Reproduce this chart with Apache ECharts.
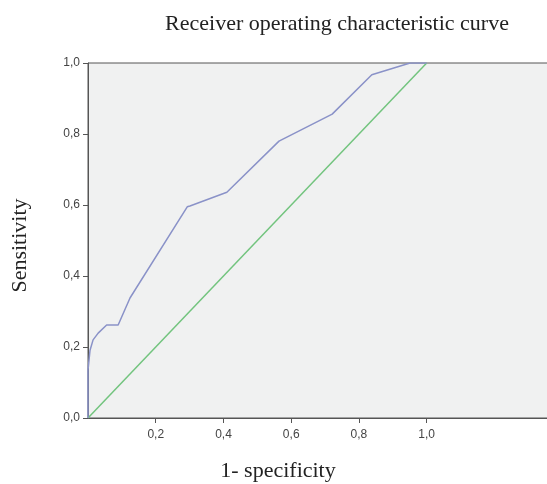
<!DOCTYPE html>
<html>
<head>
<meta charset="utf-8">
<script src="https://cdn.jsdelivr.net/npm/echarts@6/dist/echarts.min.js"></script>
<style>html,body{margin:0;padding:0;background:#fff}#c{width:547px;height:484px}</style>
</head>
<body>
<div id="c"></div>
<script>
// ROC curve points: [1 - specificity, sensitivity]
const rocFpr = [0, 0, 0.003, 0.006, 0.015, 0.030, 0.055, 0.089, 0.124, 0.293, 0.301, 0.410, 0.564, 0.721, 0.838, 0.951, 1.0];
const rocTpr = [0, 0.135, 0.163, 0.191, 0.220, 0.239, 0.262, 0.262, 0.338, 0.595, 0.597, 0.636, 0.780, 0.856, 0.967, 1.0, 1.0];
const refFpr = [0, 1];
const refTpr = [0, 1];
const tickValues = [0.2, 0.4, 0.6, 0.8, 1.0];

const fmt = v => v.toFixed(1).replace('.', ',');
const chart = echarts.init(document.getElementById('c'), null, {renderer: 'canvas'});
chart.setOption({
  animation: false,
  title: {
    text: 'Receiver operating characteristic curve',
    left: 332, top: 8, textAlign: 'center',
    textStyle: {fontFamily: 'Liberation Serif', fontSize: 22, fontWeight: 'normal', color: '#222'}
  },
  grid: {
    left: 88, top: 63, right: -5, bottom: 66,
    outerBoundsMode: 'none', containLabel: false,
    show: true, backgroundColor: '#f0f1f1', borderColor: '#555', borderWidth: 1
  },
  xAxis: {
    type: 'value', min: 0, max: 1.37,
    name: '1- specificity', nameLocation: 'middle', nameGap: 42,
    nameTextStyle: {fontFamily: 'Liberation Serif', fontSize: 22, color: '#222', padding: [0, 0, 0, -84]},
    axisLine: {show: true, lineStyle: {color: '#555'}},
    axisTick: {show: true, length: 5, lineStyle: {color: '#555'}, customValues: tickValues},
    axisLabel: {customValues: tickValues, formatter: fmt, color: '#444', fontFamily: 'Liberation Sans', fontSize: 12, margin: 11},
    splitLine: {show: false}
  },
  yAxis: {
    type: 'value', min: 0, max: 1, interval: 0.2,
    name: 'Sensitivity', nameLocation: 'middle', nameGap: 57,
    nameTextStyle: {fontFamily: 'Liberation Serif', fontSize: 22, color: '#222', padding: [0, 0, 0, -10]},
    axisLine: {show: true, lineStyle: {color: '#555'}},
    axisTick: {show: true, length: 5, lineStyle: {color: '#555'}},
    axisLabel: {formatter: fmt, color: '#444', fontFamily: 'Liberation Sans', fontSize: 12, margin: 8},
    splitLine: {show: false}
  },
  series: [
    {
      type: 'line', data: refFpr.map((x, i) => [x, refTpr[i]]),
      showSymbol: false, lineStyle: {color: '#72c47e', width: 1.5}, z: 2
    },
    {
      type: 'line', data: rocFpr.map((x, i) => [x, rocTpr[i]]),
      showSymbol: false, lineStyle: {color: '#8a92c8', width: 1.5}, z: 3
    }
  ]
});
</script>
</body>
</html>
